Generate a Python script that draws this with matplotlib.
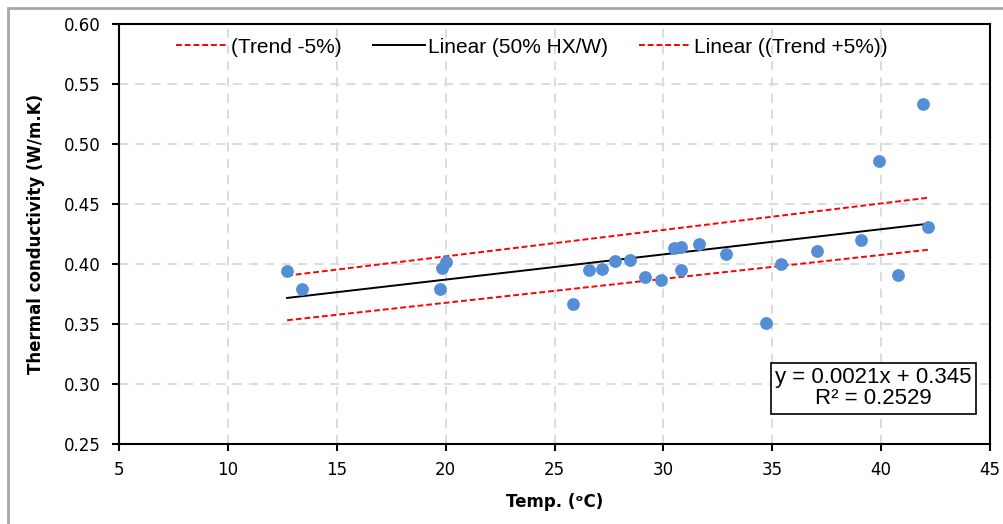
import matplotlib.pyplot as plt
from matplotlib.patches import Rectangle
import numpy as np

# measured points (temperature degC, conductivity W/m.K)
temp = [12.72, 13.41, 19.74, 19.85, 20.0, 25.85, 26.58, 27.18, 27.78, 28.47,
        29.16, 29.89, 30.49, 30.81, 30.81, 31.64, 32.88, 34.71, 35.40, 37.06,
        39.08, 39.90, 40.78, 41.92, 42.15]
cond = [0.394, 0.379, 0.379, 0.397, 0.402, 0.367, 0.395, 0.396, 0.4025, 0.403,
        0.389, 0.387, 0.413, 0.414, 0.395, 0.4165, 0.408, 0.351, 0.400, 0.411,
        0.420, 0.486, 0.391, 0.533, 0.431]

slope = 0.0021
intercept = 0.345
r2 = 0.2529
band = 0.05

xticks = [5, 10, 15, 20, 25, 30, 35, 40, 45]
yticks = [0.25, 0.30, 0.35, 0.40, 0.45, 0.50, 0.55, 0.60]

fig = plt.figure(figsize=(10.04, 5.24), dpi=100)
ax = fig.add_axes([119 / 1004, 80 / 524, 871 / 1004, 420 / 524])

# outer chart border
fig.patches.append(Rectangle((8 / 1004, -0.2), 1.2, 1.2 - 8 / 524,
                             transform=fig.transFigure, fill=False,
                             edgecolor='#A6A6A6', linewidth=2))

ax.scatter(temp, cond, s=85, color='#558ED5', zorder=4, linewidths=0)

xl = np.array([min(temp), max(temp)])
yl = slope * xl + intercept
ax.plot(xl, yl * (1 - band), color='red', ls=(0, (3, 1.5)), lw=1.4,
        label='(Trend -5%)', zorder=3)
ax.plot(xl, yl, color='black', lw=1.4, label='Linear (50% HX/W)', zorder=3)
ax.plot(xl, yl * (1 + band), color='red', ls=(0, (3, 1.5)), lw=1.4,
        label='Linear ((Trend +5%))', zorder=3)

ax.set_xlim(5, 45)
ax.set_ylim(0.25, 0.60)
ax.set_xticks(xticks)
ax.set_yticks(yticks)
ax.set_xticklabels([str(v) for v in xticks], fontsize=12)
ax.set_yticklabels([f'{v:.2f}' for v in yticks], fontsize=12)
ax.tick_params(direction='out', length=5, width=1.5, color='black')
ax.tick_params(axis='y', pad=8)
ax.tick_params(axis='x', pad=7.5)
ax.grid(True, color='#D9D9D9', ls=(0, (5, 4)), lw=1.3)
ax.set_axisbelow(True)
for sp in ax.spines.values():
    sp.set_linewidth(1.5)
    sp.set_color('black')

ax.set_xlabel('Temp. (ᵒC)', fontsize=12, fontweight='bold', labelpad=10)
ax.set_ylabel('Thermal conductivity (W/m.K)', fontsize=12, fontweight='bold',
              labelpad=14)

ax.legend(loc='upper center', bbox_to_anchor=(0.474, 1.012), ncol=3,
          frameon=False, prop={'family': 'Liberation Sans', 'size': 15},
          handlelength=2.5, handletextpad=0.15, columnspacing=1.5)

ax.text(0.866, 0.133, f'y = {slope}x + {intercept}\nR² = {r2}',
        transform=ax.transAxes, ha='center', va='center', fontsize=16,
        family='Liberation Sans', linespacing=1.0,
        bbox=dict(boxstyle='square,pad=0.2', facecolor='white',
                  edgecolor='black', linewidth=1.2))

fig.savefig('out.png', dpi=100)
